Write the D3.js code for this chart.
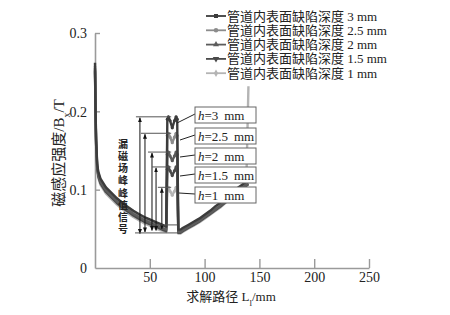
<!DOCTYPE html>
<html><head><meta charset="utf-8">
<script src="https://cdn.jsdelivr.net/npm/d3@7"></script>
<style>
body{margin:0;background:#fff;}
svg{display:block;}
text{font-family:"Liberation Serif","Noto Sans CJK SC",serif;fill:#222;}
</style></head>
<body><svg id="c" width="450" height="315"></svg>
<script>
// ---- data ----
const xPath = [0,0.5,1,2,3,5,10,15,20,25,30,35,40,45,50,55,60,63,65,66,67,68.5,70.5,72.5,74,75,76,78,80,85,90,95,100,105,110,115,120,125,130,135,138,140];
const depth3  = [0.262,0.205,0.165,0.133,0.123,0.114,0.103,0.096,0.089,0.083,0.078,0.073,0.069,0.065,0.062,0.059,0.056,0.054,0.053,0.19,0.193,0.188,0.179,0.188,0.193,0.19,0.049,0.049,0.051,0.055,0.059,0.063,0.068,0.073,0.079,0.084,0.09,0.096,0.102,0.107,0.11,0.112];
const depth25 = [0.258,0.2,0.162,0.131,0.121,0.112,0.101,0.094,0.087,0.081,0.076,0.071,0.067,0.063,0.06,0.057,0.054,0.052,0.051,0.169,0.172,0.167,0.16,0.167,0.172,0.169,0.047,0.047,0.049,0.053,0.057,0.061,0.066,0.071,0.077,0.082,0.088,0.094,0.1,0.105,0.108,0.11];
const depth2  = [0.255,0.197,0.16,0.129,0.119,0.11,0.099,0.092,0.085,0.079,0.074,0.069,0.065,0.061,0.058,0.055,0.052,0.05,0.049,0.145,0.148,0.143,0.137,0.143,0.148,0.145,0.046,0.046,0.048,0.052,0.056,0.06,0.065,0.07,0.075,0.08,0.086,0.092,0.098,0.103,0.106,0.108];
const depth15 = [0.252,0.195,0.158,0.127,0.117,0.108,0.097,0.09,0.083,0.077,0.072,0.067,0.063,0.059,0.056,0.053,0.05,0.048,0.047,0.126,0.129,0.124,0.118,0.124,0.129,0.126,0.045,0.045,0.047,0.051,0.055,0.059,0.064,0.069,0.074,0.079,0.085,0.091,0.097,0.102,0.105,0.107];
const depth1  = [0.25,0.193,0.156,0.125,0.115,0.106,0.095,0.088,0.081,0.075,0.07,0.065,0.061,0.057,0.054,0.051,0.048,0.047,0.046,0.1,0.103,0.098,0.093,0.098,0.103,0.1,0.044,0.044,0.046,0.05,0.054,0.058,0.063,0.068,0.073,0.078,0.084,0.09,0.096,0.101,0.104,0.232];
const seriesNames = ["管道内表面缺陷深度 3 mm","管道内表面缺陷深度 2.5 mm","管道内表面缺陷深度 2 mm","管道内表面缺陷深度 1.5 mm","管道内表面缺陷深度 1 mm"];
const peakLabels = ["3","2.5","2","1.5","1"];
const peakValues = [0.193,0.172,0.148,0.129,0.103];
const xTicks = [50,100,150,200,250];
const yTicks = [0,0.1,0.2,0.3];
const annoText = "漏磁场峰峰值信号";

// ---- styles ----
const colors = ["#3c3c3c","#8c8c8c","#5c5c5c","#4a4a4a","#b4b4b4"];
const symbols = [d3.symbolSquare,d3.symbolCircle,d3.symbolTriangle,"tri-down",d3.symbolDiamond];

const svg = d3.select("#c");
const x = d3.scaleLinear().domain([0,250]).range([95,369]);
const y = d3.scaleLinear().domain([0,0.3]).range([268,33]);
const axisColor = "#9a9a9a";

// axes
const gx = svg.append("g").attr("transform","translate(0,"+y(0)+")")
  .call(d3.axisBottom(x).tickValues(xTicks).tickSizeInner(-9).tickSizeOuter(0).tickPadding(4));
const gy = svg.append("g").attr("transform","translate("+x(0)+",0)")
  .call(d3.axisLeft(y).tickValues(yTicks).tickFormat(d=>d===0?"0":d3.format(".1f")(d)).tickSizeInner(-5).tickSizeOuter(0).tickPadding(8));
[gx,gy].forEach(g=>{
  g.select(".domain").attr("stroke",axisColor).attr("stroke-width",1.6);
  g.selectAll(".tick line").attr("stroke",axisColor).attr("stroke-width",1.4);
  g.selectAll(".tick text").style("font-family","Liberation Serif").style("font-size","14px").attr("fill","#333");
});
gy.selectAll(".tick").filter(d=>d===0).select("line").remove();
gy.selectAll(".tick text").attr("dy","0.35em");

// series
const allSeries = [depth3,depth25,depth2,depth15,depth1];
const line = d3.line().x((d,i)=>x(xPath[i])).y(d=>y(d));
const order = [4,1,3,2,0];
order.forEach(k=>{
  svg.append("path").datum(allSeries[k]).attr("d",line)
    .attr("fill","none").attr("stroke",colors[k]).attr("stroke-width",2.4).attr("stroke-linejoin","round");
  svg.append("g").selectAll("circle").data(allSeries[k].map((v,i)=>[xPath[i],v]).filter(d=>d[0]>=66&&d[0]<=75))
    .join("circle").attr("cx",d=>x(d[0])).attr("cy",d=>y(d[1])).attr("r",1.6).attr("fill",colors[k]);
});

// annotation arrows
const defs = svg.append("defs");
defs.append("marker").attr("id","ah").attr("viewBox","0 0 10 10").attr("refX",9).attr("refY",5)
  .attr("markerWidth",5).attr("markerHeight",7).attr("orient","auto-start-reverse")
  .append("path").attr("d","M0,1 L10,5 L0,9 z").attr("fill","#111");
const arrowX = [41,45.6,52,55.7,61];
const arrowBottom = [0.044,0.046,0.048,0.048,0.05];
const ann = svg.append("g").attr("stroke","#111").attr("stroke-width",1);
peakValues.forEach((p,i)=>{
  ann.append("line").attr("x1",x(arrowX[i])-4).attr("x2",x(69.5)).attr("y1",y(p)).attr("y2",y(p)).attr("stroke","#555");
  ann.append("line").attr("x1",x(arrowX[i])).attr("x2",x(arrowX[i])).attr("y1",y(p)+1).attr("y2",y(arrowBottom[i]))
    .attr("marker-start","url(#ah)").attr("marker-end","url(#ah)");
});
ann.append("line").attr("x1",x(36.5)).attr("x2",x(76)).attr("y1",y(0.0448)).attr("y2",y(0.0448)).attr("stroke","#555");
ann.append("line").attr("x1",x(52)).attr("x2",x(75)).attr("y1",y(0.055)).attr("y2",y(0.055)).attr("stroke","#555");

// vertical annotation text
svg.append("text").attr("x",123).attr("y",139)
  .style("writing-mode","vertical-rl").style("text-orientation","upright")
  .style("letter-spacing","2.2px")
  .style("font-family","Noto Sans CJK SC").style("font-size","10px").style("font-weight","bold")
  .text(annoText);

// peak label boxes
const boxTop = [107,128,148,167,187];
const leaderEnd = [[177,123],[180,140],[180,157],[180,176],[179,193]];
peakLabels.forEach((lab,i)=>{
  const g = svg.append("g");
  g.append("line").attr("x1",195).attr("y1",boxTop[i]+7).attr("x2",leaderEnd[i][0]).attr("y2",leaderEnd[i][1]).attr("stroke","#222");
  g.append("rect").attr("x",195).attr("y",boxTop[i]).attr("width",61).attr("height",16)
    .attr("fill","#fff").attr("stroke","#666").attr("stroke-width",1);
  const t = g.append("text").attr("x",198).attr("y",boxTop[i]+12.5).style("font-size","13px");
  t.append("tspan").style("font-style","italic").text("h");
  t.append("tspan").text("="+lab+"\u2009 mm");
});

// legend
const leg = svg.append("g");
seriesNames.forEach((n,i)=>{
  const ly = 16+i*14.3;
  leg.append("line").attr("x1",206).attr("x2",226).attr("y1",ly).attr("y2",ly).attr("stroke",colors[i]).attr("stroke-width",1.8);
  let sym;
  if(symbols[i]==="tri-down"){
    sym = leg.append("path").attr("d",d3.symbol().type(d3.symbolTriangle).size(18)()).attr("transform","translate(216,"+ly+") rotate(180)");
  } else {
    sym = leg.append("path").attr("d",d3.symbol().type(symbols[i]).size(16)()).attr("transform","translate(216,"+ly+")");
  }
  sym.attr("fill",colors[i]);
  leg.append("text").attr("x",227).attr("y",ly+4.5).style("font-size","13px").text(n);
});

// axis titles
const yl = svg.append("text").attr("transform","translate(64,153) rotate(-90)").attr("text-anchor","middle").style("font-size","15px");
yl.append("tspan").text("磁感应强度/B");
yl.append("tspan").attr("baseline-shift","sub").style("font-size","10px").text("x");
yl.append("tspan").text("/T");
const xl = svg.append("text").attr("x",231).attr("y",301).attr("text-anchor","middle").style("font-size","13px");
xl.append("tspan").text("求解路径 L");
xl.append("tspan").attr("baseline-shift","sub").style("font-size","9px").text("l");
xl.append("tspan").text("/mm");
</script></body></html>
